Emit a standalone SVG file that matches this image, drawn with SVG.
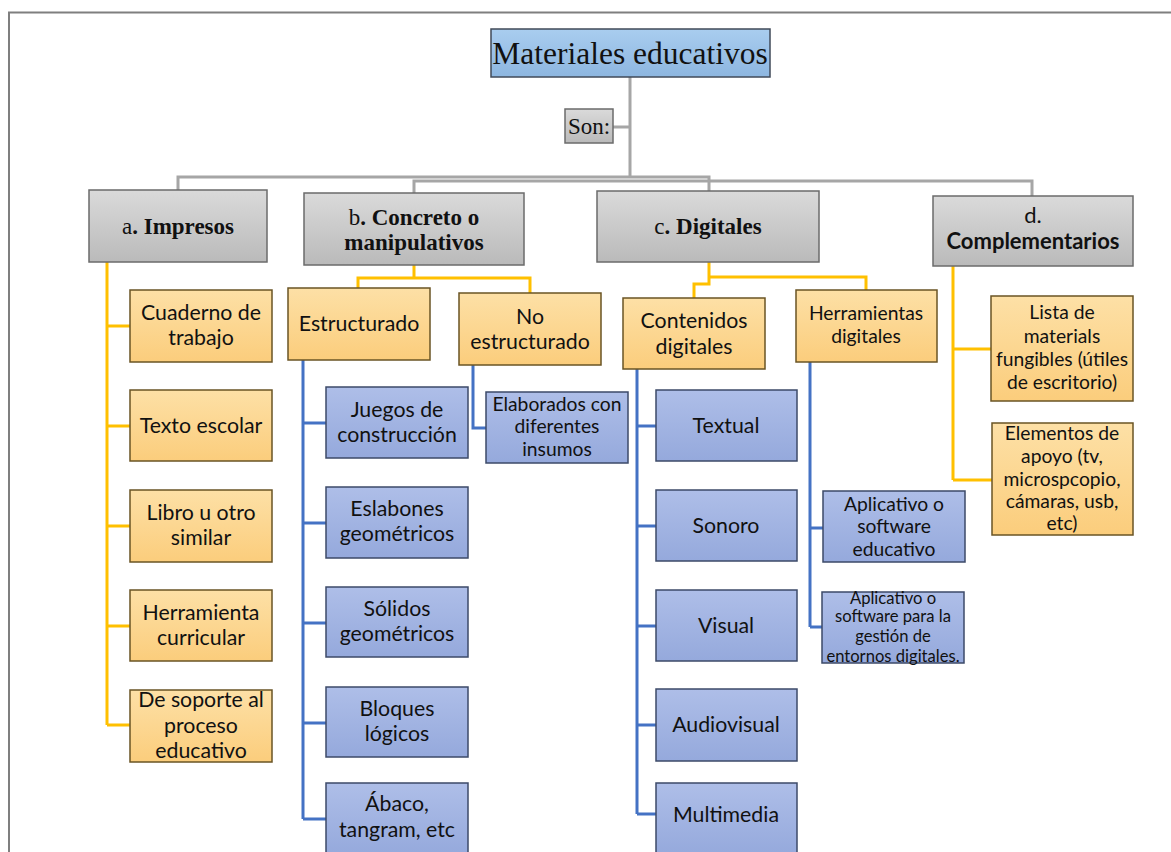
<svg xmlns="http://www.w3.org/2000/svg" width="1171" height="852" viewBox="0 0 1171 852">
<defs>
<linearGradient id="gGray" x1="0" y1="0" x2="0" y2="1"><stop offset="0" stop-color="#dadada"/><stop offset="1" stop-color="#bababa"/></linearGradient>
<linearGradient id="gYel" x1="0" y1="0" x2="0" y2="1"><stop offset="0" stop-color="#fde0a6"/><stop offset="1" stop-color="#fbcd7c"/></linearGradient>
<linearGradient id="gBlue" x1="0" y1="0" x2="0" y2="1"><stop offset="0" stop-color="#aebee8"/><stop offset="1" stop-color="#95a9dc"/></linearGradient>
<linearGradient id="gTitle" x1="0" y1="0" x2="0" y2="1"><stop offset="0" stop-color="#a9cdef"/><stop offset="1" stop-color="#8db6e0"/></linearGradient>
<style>
.gray{fill:url(#gGray);stroke:#6b6b6b;stroke-width:1.5}
.yel{fill:url(#gYel);stroke:#6a5424;stroke-width:1.5}
.blue{fill:url(#gBlue);stroke:#3c4a68;stroke-width:1.5}
.title{fill:url(#gTitle);stroke:#404a58;stroke-width:1.5}
.serif{font-family:"Liberation Serif","Times New Roman",serif;fill:#111;text-anchor:middle;font-size:23px}
.big{font-size:31.5px}
.sans{font-family:Lato,"Open Sans","Liberation Sans",sans-serif;fill:#111;text-anchor:middle;font-size:21.3px}
.dd{font-size:22px}
.sm{font-size:19.3px}
.xs{font-size:16.6px}
.cg{fill:none;stroke:#a6a6a6;stroke-width:3}
.cy{fill:none;stroke:#ffc000;stroke-width:3}
.cb{fill:none;stroke:#4472c4;stroke-width:3}
</style>
</defs>
<rect x="0" y="0" width="1171" height="852" fill="#ffffff"/>
<path d="M9 860 V12.5 H1175" fill="none" stroke="#7f7f7f" stroke-width="2"/>
<g id="connectors">
<path class="cg" d="M630 77 V177 M613 127 H630 M630 177 H178 V190 M630 181 H414 V193 M630 177 H709 V191 M630 181 H1032 V196"/>
<path class="cy" d="M107 262 V725 M107 326 H130 M107 426 H130 M107 526 H130 M107 626 H130 M107 725 H130"/>
<path class="cy" d="M414 265 V278 H358 V289 M414 278 H530 V294"/>
<path class="cy" d="M709 262 V277 H866 V290 M709 277 V284 H694 V298"/>
<path class="cy" d="M953 266 V480 M953 349 H991 M953 480 H992"/>
<path class="cb" d="M303 360 V819 M303 423 H326 M303 523 H326 M303 623 H326 M303 723 H326 M303 819 H326"/>
<path class="cb" d="M473 365 V428 H486"/>
<path class="cb" d="M637 369 V814 M637 426 H656 M637 526 H656 M637 626 H656 M637 725 H656 M637 814 H656"/>
<path class="cb" d="M810 362 V627 M810 528 H823 M810 627 H823"/>
</g>
<g id="title"><rect class="title" x="491" y="29" width="279" height="48"/><text class="serif big" x="630" y="64">Materiales educativos</text></g>
<g id="son"><rect class="gray" x="565" y="109" width="48" height="34"/><text class="serif" x="589" y="134">Son:</text></g>
<g id="a"><rect class="gray" x="89" y="190" width="178" height="72"/><text class="serif" x="178" y="234">a<tspan font-weight="bold">. Impresos</tspan></text></g>
<g id="b"><rect class="gray" x="304" y="193" width="220" height="72"/><text class="serif" x="414" y="225">b<tspan font-weight="bold">. Concreto o</tspan></text><text class="serif" x="414" y="250" font-weight="bold">manipulativos</text></g>
<g id="c"><rect class="gray" x="597" y="191" width="222" height="71"/><text class="serif" x="708" y="234">c<tspan font-weight="bold">. Digitales</tspan></text></g>
<g id="d"><rect class="gray" x="933" y="196" width="200" height="70"/><text class="sans dd" x="1033" y="223">d.</text><text class="sans dd" x="1033" y="249" font-weight="bold">Complementarios</text></g>
<g id="a1"><rect class="yel" x="130" y="290" width="142" height="72"/><text class="sans" x="201" y="320">Cuaderno de</text><text class="sans" x="201" y="345">trabajo</text></g>
<g id="a2"><rect class="yel" x="130" y="390" width="142" height="71"/><text class="sans" x="201" y="433">Texto escolar</text></g>
<g id="a3"><rect class="yel" x="130" y="490" width="142" height="72"/><text class="sans" x="201" y="520">Libro u otro</text><text class="sans" x="201" y="545">similar</text></g>
<g id="a4"><rect class="yel" x="130" y="590" width="142" height="71"/><text class="sans" x="201" y="620">Herramienta</text><text class="sans" x="201" y="645">curricular</text></g>
<g id="a5"><rect class="yel" x="130" y="690" width="142" height="72"/><text class="sans" x="201" y="707">De soporte al</text><text class="sans" x="201" y="733">proceso</text><text class="sans" x="201" y="758">educativo</text></g>
<g id="b1"><rect class="yel" x="288" y="288" width="142" height="72"/><text class="sans" x="359" y="331">Estructurado</text></g>
<g id="b2"><rect class="yel" x="459" y="293" width="142" height="72"/><text class="sans" x="530" y="324">No</text><text class="sans" x="530" y="349">estructurado</text></g>
<g id="b11"><rect class="blue" x="326" y="387" width="142" height="71"/><text class="sans" x="397" y="417">Juegos de</text><text class="sans" x="397" y="442">construcción</text></g>
<g id="b12"><rect class="blue" x="326" y="487" width="142" height="71"/><text class="sans" x="397" y="516">Eslabones</text><text class="sans" x="397" y="541">geométricos</text></g>
<g id="b13"><rect class="blue" x="326" y="587" width="142" height="70"/><text class="sans" x="397" y="616">Sólidos</text><text class="sans" x="397" y="641">geométricos</text></g>
<g id="b14"><rect class="blue" x="326" y="687" width="142" height="70"/><text class="sans" x="397" y="716">Bloques</text><text class="sans" x="397" y="741">lógicos</text></g>
<g id="b15"><rect class="blue" x="326" y="783" width="142" height="72"/><text class="sans" x="397" y="811">Ábaco,</text><text class="sans" x="397" y="837">tangram, etc</text></g>
<g id="b21"><rect class="blue" x="486" y="392" width="142" height="71"/><text class="sans sm" x="557" y="411">Elaborados con</text><text class="sans sm" x="557" y="433">diferentes</text><text class="sans sm" x="557" y="456">insumos</text></g>
<g id="c1"><rect class="yel" x="623" y="298" width="142" height="71"/><text class="sans" x="694" y="328">Contenidos</text><text class="sans" x="694" y="354">digitales</text></g>
<g id="c2"><rect class="yel" x="796" y="290" width="141" height="72"/><text class="sans sm" x="866" y="320">Herramientas</text><text class="sans sm" x="866" y="343">digitales</text></g>
<g id="c11"><rect class="blue" x="656" y="390" width="141" height="71"/><text class="sans" x="726" y="433">Textual</text></g>
<g id="c12"><rect class="blue" x="656" y="490" width="141" height="71"/><text class="sans" x="726" y="533">Sonoro</text></g>
<g id="c13"><rect class="blue" x="656" y="590" width="141" height="71"/><text class="sans" x="726" y="633">Visual</text></g>
<g id="c14"><rect class="blue" x="656" y="689" width="141" height="72"/><text class="sans" x="726" y="732">Audiovisual</text></g>
<g id="c15"><rect class="blue" x="656" y="783" width="141" height="72"/><text class="sans" x="726" y="822">Multimedia</text></g>
<g id="c21"><rect class="blue" x="823" y="491" width="142" height="71"/><text class="sans sm" x="894" y="511">Aplicativo o</text><text class="sans sm" x="894" y="533">software</text><text class="sans sm" x="894" y="556">educativo</text></g>
<g id="c22"><rect class="blue" x="822" y="592" width="142" height="71"/><text class="sans xs" x="893" y="604">Aplicativo o</text><text class="sans xs" x="893" y="622">software para la</text><text class="sans xs" x="893" y="642">gestión de</text><text class="sans xs" x="893" y="662">entornos digitales.</text></g>
<g id="d1"><rect class="yel" x="991" y="296" width="142" height="105"/><text class="sans sm" x="1062" y="319">Lista de</text><text class="sans sm" x="1062" y="343">materials</text><text class="sans sm" x="1062" y="366">fungibles (útiles</text><text class="sans sm" x="1062" y="389">de escritorio)</text></g>
<g id="d2"><rect class="yel" x="992" y="423" width="141" height="112"/><text class="sans sm" x="1062" y="440">Elementos de</text><text class="sans sm" x="1062" y="463">apoyo (tv,</text><text class="sans sm" x="1062" y="486">microspcopio,</text><text class="sans sm" x="1062" y="508">cámaras, usb,</text><text class="sans sm" x="1062" y="530">etc)</text></g>
</svg>
